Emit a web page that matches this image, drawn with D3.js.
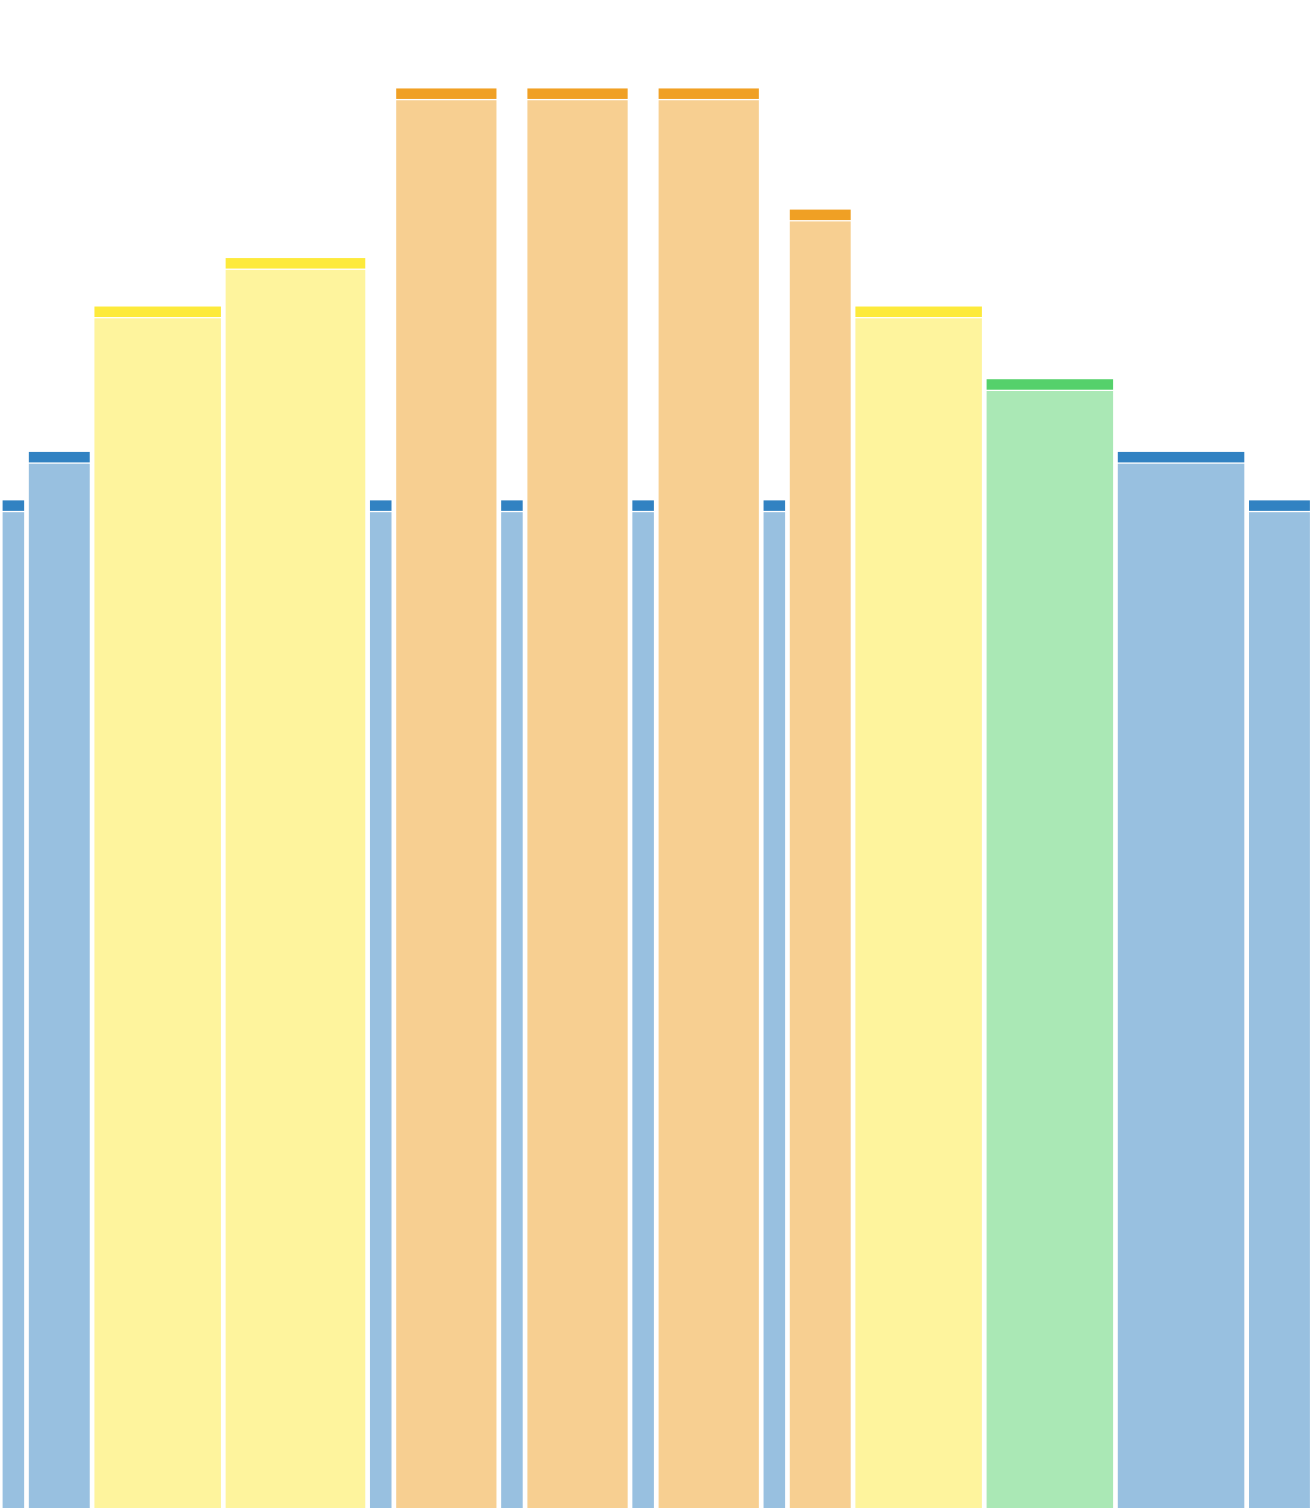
<!DOCTYPE html>
<html>
<head>
<meta charset="utf-8">
<script src="https://cdn.jsdelivr.net/npm/d3@7"></script>
<style>
  html, body { margin: 0; padding: 0; background: #fff; overflow: hidden; }
</style>
</head>
<body>
<div id="chart"></div>
<script>
  var width = 1312;
  var height = 1508;

  // span of each bar (relative units) and its value
  var spans = [2, 5, 10, 11, 2, 8, 2, 8, 2, 8, 2, 5, 10, 10, 10, 5];
  var values = [83, 87, 99, 103, 83, 117, 83, 117, 83, 117, 83, 107, 99, 93, 87, 83];

  // colour bands by value
  var levelBreaks = [90, 96, 105];
  var levelColors = ["#3182c2", "#55d16b", "#fdea3b", "#f0a024"];

  var starts = [];
  spans.reduce(function(acc, s) { starts.push(acc); return acc + s; }, 0);

  var bars = spans.map(function(s, i) {
      return { start: starts[i], end: starts[i] + s, value: values[i] };
  });

  var x = d3.scaleLinear()
      .domain([0, d3.sum(spans)])
      .range([0, width]);

  var y = d3.scaleLinear()
      .domain([0, 124.3])
      .range([1506, 0]);

  var color = d3.scaleThreshold()
      .domain(levelBreaks)
      .range(levelColors);

  var capH = 10.5;
  var padL = 2.6, padR = 2.1;

  var svg = d3.select("#chart").append("svg")
      .attr("width", width)
      .attr("height", height);

  var g = svg.selectAll("g.bar")
      .data(bars)
      .enter().append("g")
      .attr("class", "bar");

  // light body
  g.append("rect")
      .attr("x", function(d) { return x(d.start) + padL; })
      .attr("width", function(d) { return x(d.end) - x(d.start) - padL - padR; })
      .attr("y", function(d) { return y(d.value) + capH + 1.3; })
      .attr("height", function(d) { return height - (y(d.value) + capH + 1.3) + 4; })
      .style("fill", function(d) { return color(d.value); })
      .style("fill-opacity", 0.5);

  // dark cap
  g.append("rect")
      .attr("x", function(d) { return x(d.start) + padL; })
      .attr("width", function(d) { return x(d.end) - x(d.start) - padL - padR; })
      .attr("y", function(d) { return y(d.value); })
      .attr("height", capH)
      .style("fill", function(d) { return color(d.value); });
</script>
</body>
</html>
